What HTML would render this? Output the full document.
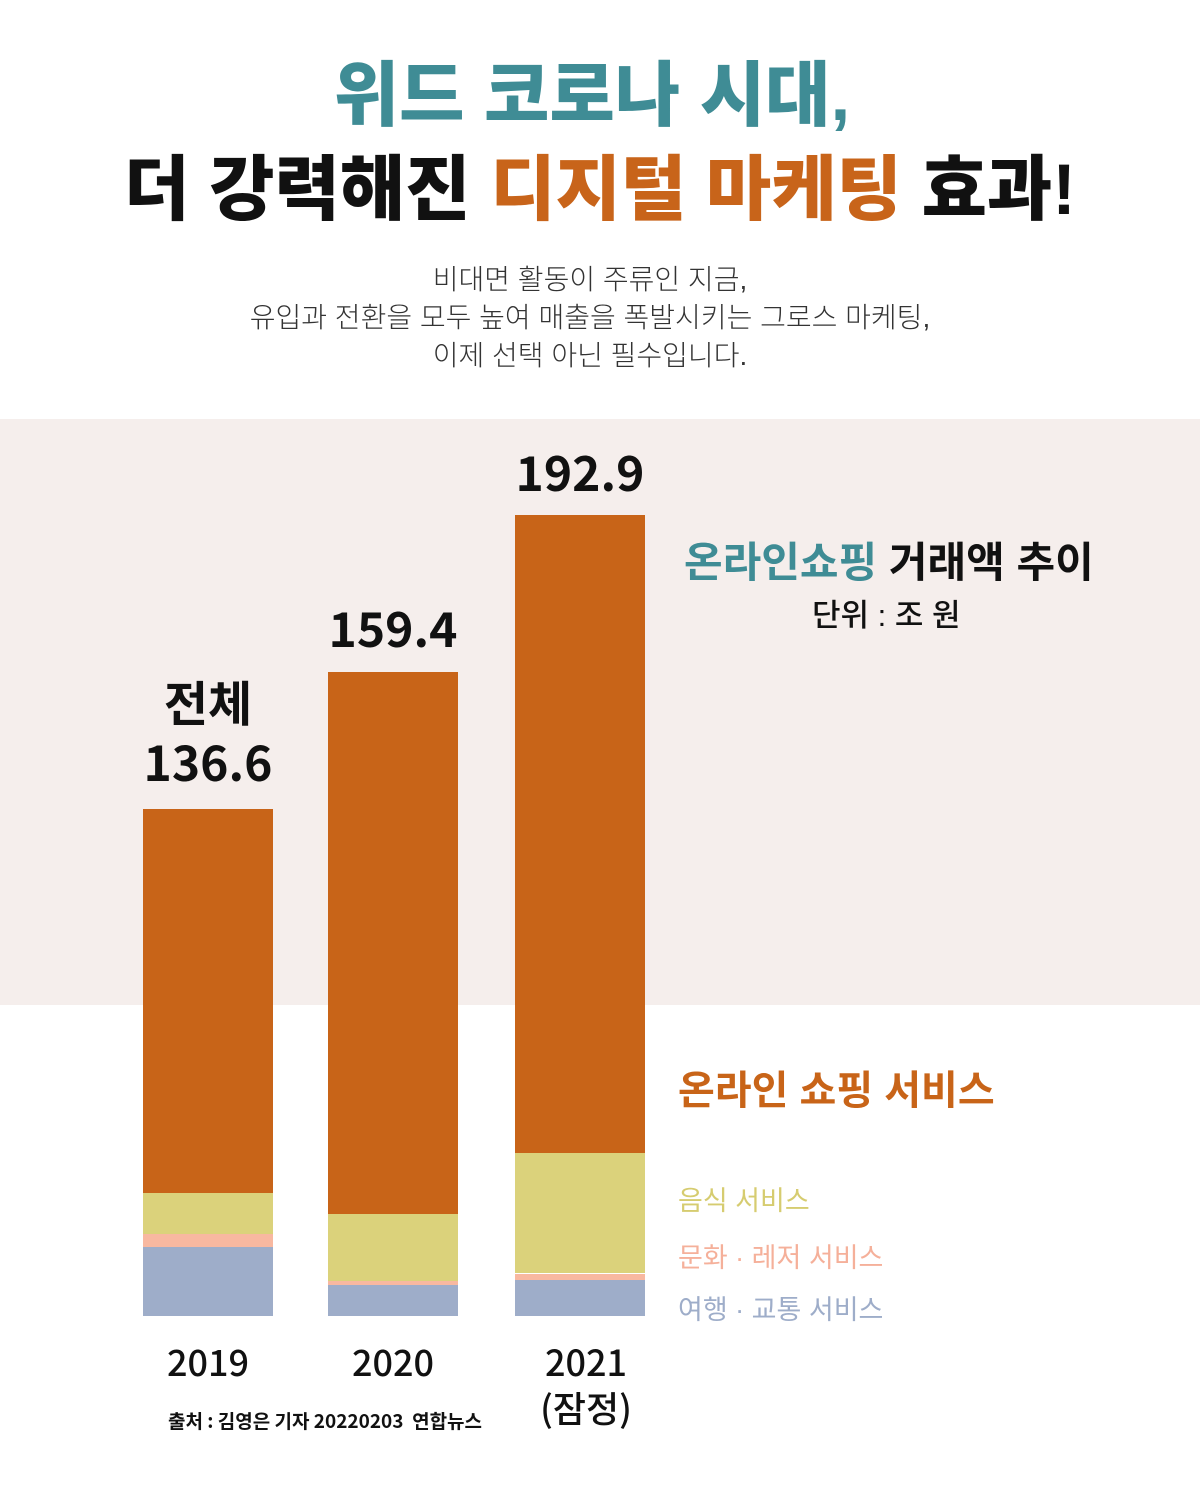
<!DOCTYPE html>
<html><head><meta charset="utf-8"><style>
body{margin:0;width:1200px;height:1500px;background:#fff;position:relative;overflow:hidden;font-family:"Liberation Sans","Noto Sans CJK KR",sans-serif;}
div{position:absolute;}
.t{white-space:nowrap;}
.c{text-align:center;}
.n{font-family:"Noto Sans CJK KR",sans-serif;}
</style></head><body>
<div style="left:0;top:419px;width:1200px;height:586px;background:#f5eeec"></div>

<div class="t c" style="left:-8px;width:1200px;top:52px;font-size:71px;font-weight:900;color:#3f8c95;line-height:90px">위드 코로나 시대,</div>
<div class="t c" style="left:0;width:1200px;top:146px;font-size:71px;font-weight:900;color:#111;line-height:90px">더 강력해진 <span style="color:#c8641a">디지털 마케팅</span> 효과!</div>
<div class="t c" style="left:-10px;width:1200px;top:261px;font-size:28px;color:#333;line-height:38px;font-weight:300">비대면 활동이 주류인 지금,<br>유입과 전환을 모두 높여 매출을 폭발시키는 그로스 마케팅,<br>이제 선택 아닌 필수입니다.</div>

<!-- bars -->
<div style="left:143px;top:809px;width:130px;height:384px;background:#c86418"></div>
<div style="left:143px;top:1193px;width:130px;height:41px;background:#dbd27b"></div>
<div style="left:143px;top:1234px;width:130px;height:13px;background:#f8b8a0"></div>
<div style="left:143px;top:1247px;width:130px;height:69px;background:#9eadc9"></div>

<div style="left:328px;top:672px;width:130px;height:542px;background:#c86418"></div>
<div style="left:328px;top:1214px;width:130px;height:67px;background:#dbd27b"></div>
<div style="left:328px;top:1281px;width:130px;height:4px;background:#f8b8a0"></div>
<div style="left:328px;top:1285px;width:130px;height:31px;background:#9eadc9"></div>

<div style="left:515px;top:515px;width:130px;height:638px;background:#c86418"></div>
<div style="left:515px;top:1153px;width:130px;height:120px;background:#dbd27b"></div>
<div style="left:515px;top:1274px;width:130px;height:6px;background:#f8b8a0"></div>
<div style="left:515px;top:1280px;width:130px;height:36px;background:#9eadc9"></div>

<div class="t c n" style="left:108px;width:200px;top:670px;font-size:48px;font-weight:700;line-height:60px;color:#111">전체<br>136.6</div>
<div class="t c n" style="left:293px;width:200px;top:596px;font-size:48px;font-weight:700;line-height:60px;color:#111">159.4</div>
<div class="t c n" style="left:480px;width:200px;top:440px;font-size:48px;font-weight:700;line-height:60px;color:#111">192.9</div>

<div class="t c n" style="left:108px;width:200px;top:1338px;font-size:36px;font-weight:500;line-height:46px;color:#111">2019</div>
<div class="t c n" style="left:293px;width:200px;top:1338px;font-size:36px;font-weight:500;line-height:46px;color:#111">2020</div>
<div class="t c n" style="left:486px;width:200px;top:1338px;font-size:36px;font-weight:500;line-height:46px;color:#111">2021<br>(잠정)</div>
<div class="t n" style="left:168px;top:1407px;font-size:19px;font-weight:700;color:#111">출처 : 김영은 기자 20220203 &nbsp;연합뉴스</div>

<div class="t" style="left:684px;top:536px;font-size:42px;font-weight:700;line-height:54px;color:#111"><span style="color:#3f8c95">온라인쇼핑</span> 거래액 추이</div>
<div class="t" style="left:812px;top:596px;font-size:31px;font-weight:500;line-height:40px;color:#111">단위 : 조 원</div>

<div class="t" style="left:678px;top:1066px;font-size:40px;font-weight:700;line-height:50px;color:#c86418">온라인 쇼핑 서비스</div>
<div class="t" style="left:678px;top:1184px;font-size:27px;line-height:34px;color:#d6cc70">음식 서비스</div>
<div class="t" style="left:678px;top:1241px;font-size:27px;line-height:34px;color:#f5b09a">문화 · 레저 서비스</div>
<div class="t" style="left:678px;top:1293px;font-size:27px;line-height:34px;color:#9eadc9">여행 · 교통 서비스</div>
</body></html>
